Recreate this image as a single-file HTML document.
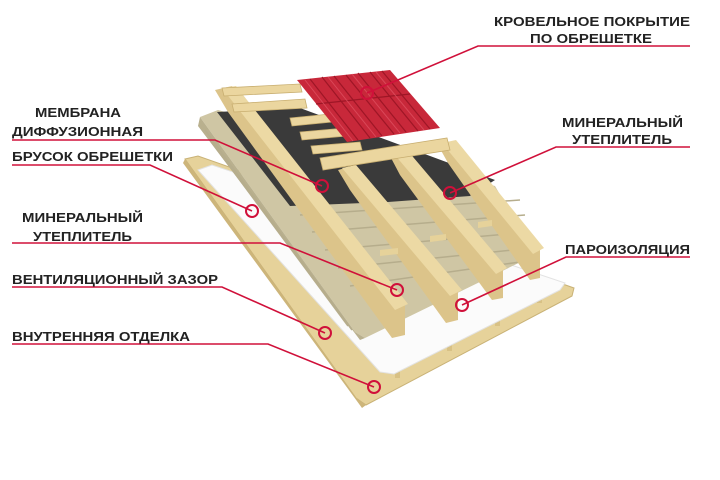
<!DOCTYPE html>
<html><head><meta charset="utf-8"><style>
html,body{margin:0;padding:0;background:#fff;width:720px;height:480px;overflow:hidden}
svg{display:block}
text{font-family:"Liberation Sans","DejaVu Sans",sans-serif;font-weight:bold;font-size:13px;fill:#222}
</style></head><body>
<svg width="720" height="480" viewBox="0 0 720 480" xmlns="http://www.w3.org/2000/svg">
<!-- bottom board (inner finish) -->
<polygon points="185,159 198,156 574,288 572,296 366,405 356,398" fill="#e6d29a" stroke="#c9b276" stroke-width="1"/>
<polygon points="185,159 356,398 366,405 362,408 183,163" fill="#cdb57a"/>
<!-- small battens under -->
<g fill="#d8c185">
<rect x="395" y="368" width="5" height="10"/><rect x="447" y="341" width="5" height="10"/><rect x="495" y="316" width="5" height="10"/><rect x="537" y="293" width="5" height="10"/>
</g>
<!-- vapor barrier white -->
<polygon points="198,170 212,165 565,283 560,290 394,374 380,372" fill="#fbfbfb" stroke="#e3e3e3" stroke-width="1"/>
<!-- insulation stack -->
<polygon points="200,117 218,110 495,186 535,255 365,338 355,332" fill="#cfc6a4"/>
<polygon points="200,117 355,332 365,338 360,340 198,126" fill="#b9b08e"/>
<g stroke="#b6ad8c" stroke-width="1.5" fill="none">
<line x1="205" y1="130" x2="352" y2="330"/>
<line x1="210" y1="140" x2="348" y2="326"/>
<line x1="300" y1="215" x2="520" y2="200"/>
<line x1="312" y1="232" x2="525" y2="215"/>
<line x1="325" y1="250" x2="530" y2="232"/>
<line x1="338" y1="268" x2="532" y2="248"/>
<line x1="350" y1="286" x2="520" y2="262"/>
</g>
<!-- black membrane -->
<polygon points="217,112 300,108 495,180 470,196 388,202 290,206" fill="#3a3a3a"/>
<!-- rafters -->
<g>
<polygon points="215,90 232,86 405,305 405,335 392,338 228,112" fill="#dcc48a"/>
<polygon points="222,88 236,86 408,304 395,310" fill="#ecd9a4"/>
<polygon points="338,170 352,166 458,292 458,320 446,323 350,190" fill="#dcc48a"/>
<polygon points="342,168 356,165 462,290 450,296" fill="#ecd9a4"/>
<polygon points="390,156 404,152 503,270 503,298 492,300 400,175" fill="#dcc48a"/>
<polygon points="394,154 408,151 507,268 496,274" fill="#ecd9a4"/>
<polygon points="438,145 452,142 540,250 540,278 530,280 448,163" fill="#dcc48a"/>
<polygon points="442,143 456,140 544,248 533,254" fill="#ecd9a4"/>
</g>
<!-- cross battens on insulation -->
<g fill="#e6d29a">
<polygon points="380,250 398,248 398,254 380,256"/><polygon points="430,236 446,234 446,240 430,242"/><polygon points="478,222 492,220 492,226 478,228"/>
</g>
<!-- top lathing battens -->
<g fill="#ebd69f" stroke="#c8ae70" stroke-width="0.8">
<polygon points="222,88 300,84 302,92 224,96"/>
<polygon points="232,104 305,99 307,108 234,112"/>
<polygon points="290,118 330,114 332,122 292,126"/>
<polygon points="300,132 345,128 347,136 302,140"/>
<polygon points="311,146 360,142 362,150 313,154"/>
<polygon points="320,158 447,138 450,150 323,170"/>
</g>
<!-- red tiles -->
<polygon points="297,80 390,70 440,128 347,142" fill="#c8283a"/>
<g stroke="#9e1626" stroke-width="1.2">
<line x1="310" y1="79" x2="358" y2="140"/><line x1="322" y1="77" x2="370" y2="138"/><line x1="334" y1="76" x2="382" y2="136"/><line x1="346" y1="75" x2="394" y2="134"/><line x1="358" y1="73" x2="406" y2="132"/><line x1="370" y1="72" x2="418" y2="131"/><line x1="382" y1="71" x2="430" y2="129"/>
<line x1="316" y1="104" x2="410" y2="94"/>
</g>
<g stroke="#e25565" stroke-width="1" opacity="0.7">
<line x1="305" y1="80" x2="353" y2="141"/><line x1="328" y1="77" x2="376" y2="137"/><line x1="352" y1="74" x2="400" y2="133"/><line x1="376" y1="72" x2="424" y2="130"/>
</g>
<!-- leader lines -->
<g stroke="#d0103a" stroke-width="1.6" fill="none">
<polyline points="690,46 478,46 367,93"/>
<polyline points="690,147 556,147 450,193"/>
<polyline points="690,257 566,257 462,305"/>
<polyline points="12,140 215,140 322,186"/>
<polyline points="12,165 150,165 252,211"/>
<polyline points="12,243 280,243 397,290"/>
<polyline points="12,287 222,287 325,333"/>
<polyline points="12,344 268,344 374,387"/>
</g>
<g stroke="#d0103a" stroke-width="2" fill="none">
<circle cx="367" cy="93" r="6"/><circle cx="450" cy="193" r="6"/><circle cx="462" cy="305" r="6"/>
<circle cx="322" cy="186" r="6"/><circle cx="252" cy="211" r="6"/><circle cx="397" cy="290" r="6"/>
<circle cx="325" cy="333" r="6"/><circle cx="374" cy="387" r="6"/>
</g>
<!-- labels -->
<text x="494" y="26" textLength="196" lengthAdjust="spacingAndGlyphs">КРОВЕЛЬНОЕ ПОКРЫТИЕ</text>
<text x="530" y="43" textLength="122" lengthAdjust="spacingAndGlyphs">ПО ОБРЕШЕТКЕ</text>
<text x="562" y="127" textLength="121" lengthAdjust="spacingAndGlyphs">МИНЕРАЛЬНЫЙ</text>
<text x="572" y="144" textLength="100" lengthAdjust="spacingAndGlyphs">УТЕПЛИТЕЛЬ</text>
<text x="565" y="254" textLength="125" lengthAdjust="spacingAndGlyphs">ПАРОИЗОЛЯЦИЯ</text>
<text x="35" y="117" textLength="86" lengthAdjust="spacingAndGlyphs">МЕМБРАНА</text>
<text x="12" y="136" textLength="131" lengthAdjust="spacingAndGlyphs">ДИФФУЗИОННАЯ</text>
<text x="12" y="161" textLength="161" lengthAdjust="spacingAndGlyphs">БРУСОК ОБРЕШЕТКИ</text>
<text x="22" y="222" textLength="121" lengthAdjust="spacingAndGlyphs">МИНЕРАЛЬНЫЙ</text>
<text x="33" y="241" textLength="99" lengthAdjust="spacingAndGlyphs">УТЕПЛИТЕЛЬ</text>
<text x="12" y="284" textLength="206" lengthAdjust="spacingAndGlyphs">ВЕНТИЛЯЦИОННЫЙ ЗАЗОР</text>
<text x="12" y="341" textLength="178" lengthAdjust="spacingAndGlyphs">ВНУТРЕННЯЯ ОТДЕЛКА</text>
</svg>
</body></html>
